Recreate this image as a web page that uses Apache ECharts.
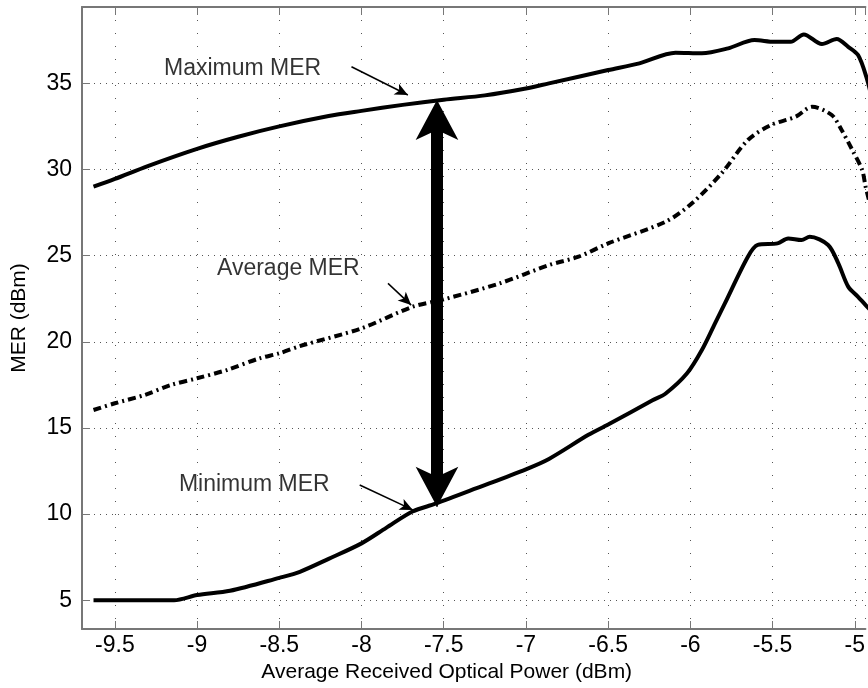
<!DOCTYPE html>
<html>
<head>
<meta charset="utf-8">
<script src="https://cdn.jsdelivr.net/npm/echarts@6/dist/echarts.min.js"></script>
<style>
  html, body { margin: 0; padding: 0; background: #fff; }
  #chart { width: 868px; height: 688px; }
</style>
</head>
<body>
<div id="chart"></div>
<script>
// received optical power (dBm) / MER (dBm)
var maxX = [-9.63, -9.5, -9.3, -9.0, -8.75, -8.5, -8.2, -8.0, -7.75, -7.5, -7.25, -7.0, -6.86, -6.5, -6.31, -6.09, -5.93, -5.77, -5.61, -5.49, -5.39, -5.31, -5.2, -5.11, -5.04, -4.98, -4.93, -4.88];
var maxY = [29.0, 29.45, 30.2, 31.2, 31.9, 32.5, 33.1, 33.4, 33.75, 34.05, 34.3, 34.7, 35.0, 35.77, 36.16, 36.78, 36.74, 37.03, 37.51, 37.41, 37.41, 37.84, 37.28, 37.57, 37.12, 36.64, 35.38, 33.5];

var avgX = [-9.63, -9.5, -9.32, -9.16, -9.0, -8.82, -8.62, -8.5, -8.375, -8.0, -7.69, -7.5, -7.16, -6.86, -6.68, -6.5, -6.15, -5.99, -5.81, -5.65, -5.51, -5.36, -5.26, -5.14, -5.08, -5.015, -4.955, -4.934, -4.88];
var avgY = [16.04, 16.43, 16.91, 17.49, 17.88, 18.36, 19.04, 19.33, 19.75, 20.78, 22.03, 22.46, 23.39, 24.45, 24.94, 25.71, 26.97, 28.04, 29.78, 31.71, 32.58, 33.06, 33.64, 33.16, 32.29, 31.13, 29.97, 29.0, 27.0];

var minX = [-9.63, -9.14, -9.0, -8.8, -8.5, -8.375, -8.2, -8.0, -7.85, -7.69, -7.55, -7.3, -7.0, -6.86, -6.62, -6.5, -6.23, -6.15, -6.02, -5.93, -5.85, -5.79, -5.65, -5.59, -5.47, -5.405, -5.324, -5.274, -5.162, -5.1, -5.04, -4.98, -4.934, -4.88];
var minY = [5.0, 5.0, 5.3, 5.55, 6.3, 6.65, 7.4, 8.3, 9.2, 10.15, 10.6, 11.5, 12.6, 13.2, 14.6, 15.2, 16.6, 17.0, 18.17, 19.52, 21.07, 22.23, 24.94, 25.62, 25.71, 26.0, 25.9, 26.1, 25.62, 24.55, 23.2, 22.61, 22.13, 21.6];

// annotations: text position, arrow start, arrow tip
var noteText = ['Maximum MER', 'Average MER', 'Minimum MER'];
var notePos = [[-8.723, 35.86], [-8.445, 24.26], [-8.652, 11.73]];
var arrowFrom = [[-8.061, 35.96], [-7.839, 23.39], [-8.011, 11.69]];
var arrowTo = [[-7.718, 34.32], [-7.698, 22.13], [-7.688, 10.24]];
// big double arrow between max and min
var spanX = -7.541;
var spanTip = [34.03, 10.43];
var spanShaft = [32.5, 12.0];

function zip(xs, ys) {
  return xs.map(function (x, i) { return [x, ys[i]]; });
}

var font = 'Liberation Sans, Arial, sans-serif';
var axisGray = '#777';
var xMin = -9.7, xMax = -4.935;

var chart = echarts.init(document.getElementById('chart'));
chart.setOption({
  animation: false,
  backgroundColor: '#fff',
  grid: { left: 82, top: 7, bottom: 59, right: 0 },
  xAxis: [{
    type: 'value',
    min: xMin,
    max: xMax,
    splitNumber: 10,
    minInterval: 0.5,
    maxInterval: 0.5,
    name: 'Average Received Optical Power (dBm)',
    nameLocation: 'middle',
    nameGap: 32,
    nameTextStyle: { fontFamily: font, fontSize: 21, color: '#000', padding: [0, 54, 0, 0] },
    axisLine: { onZero: false, lineStyle: { color: axisGray, width: 2 } },
    axisTick: { inside: true, length: 8, lineStyle: { color: axisGray, width: 1 } },
    axisLabel: { fontFamily: font, fontSize: 23, color: '#000', margin: 5, showMinLabel: false, showMaxLabel: false },
    splitLine: { show: true, lineStyle: { color: '#555', width: 1, type: [1, 12] } }
  }, {
    type: 'value',
    position: 'top',
    min: xMin,
    max: xMax,
    splitNumber: 10,
    minInterval: 0.5,
    maxInterval: 0.5,
    axisLine: { onZero: false, lineStyle: { color: axisGray, width: 2 } },
    axisTick: { inside: true, length: 8, lineStyle: { color: axisGray, width: 1 } },
    axisLabel: { show: false },
    splitLine: { show: false }
  }],
  yAxis: {
    type: 'value',
    min: 3.33,
    max: 39.43,
    splitNumber: 7,
    minInterval: 5,
    maxInterval: 5,
    name: 'MER (dBm)',
    nameLocation: 'middle',
    nameGap: 52,
    nameTextStyle: { fontFamily: font, fontSize: 21, color: '#000' },
    axisLine: { onZero: false, lineStyle: { color: axisGray, width: 2 } },
    axisTick: { inside: true, length: 8, lineStyle: { color: axisGray, width: 1 } },
    axisLabel: { fontFamily: font, fontSize: 23, color: '#000', margin: 10, showMinLabel: false, showMaxLabel: false },
    splitLine: { show: true, lineStyle: { color: '#555', width: 1, type: [1, 5] } }
  },
  series: [{
    name: 'Maximum MER',
    type: 'line',
    data: zip(maxX, maxY),
    showSymbol: false,
    smooth: 0.3,
    lineStyle: { color: '#000', width: 4 }
  }, {
    name: 'Average MER',
    type: 'line',
    data: zip(avgX, avgY),
    showSymbol: false,
    smooth: 0.3,
    lineStyle: { color: '#000', width: 4, type: [8, 4, 2, 4] }
  }, {
    name: 'Minimum MER',
    type: 'line',
    data: zip(minX, minY),
    showSymbol: false,
    smooth: 0.3,
    lineStyle: { color: '#000', width: 4 }
  }, {
    name: 'notes',
    type: 'scatter',
    silent: true,
    symbolSize: 1,
    itemStyle: { color: 'rgba(0,0,0,0)' },
    data: notePos.map(function (p, i) { return { value: p, name: noteText[i] }; }),
    label: {
      show: true,
      position: 'inside',
      formatter: '{b}',
      fontFamily: font,
      fontSize: 23,
      color: '#000'
    },
    markLine: {
      silent: true,
      symbol: ['none', 'arrow'],
      symbolSize: [9, 13],
      label: { show: false },
      lineStyle: { color: '#000', width: 1.5, type: 'solid' },
      data: arrowFrom.map(function (p, i) {
        return [{ coord: p }, { coord: arrowTo[i] }];
      }).concat([
        [
          { coord: [spanX, spanShaft[0]], symbol: 'none', lineStyle: { width: 12 } },
          { coord: [spanX, spanShaft[1]], symbol: 'none' }
        ],
        [
          { coord: [spanX, 25], symbolSize: [32, 40] },
          { coord: [spanX, spanTip[0]], symbolSize: [32, 40] }
        ],
        [
          { coord: [spanX, 20], symbolSize: [32, 40] },
          { coord: [spanX, spanTip[1]], symbolSize: [32, 40] }
        ]
      ])
    }
  }]
});
window.addEventListener('resize', function () {
  chart.resize();
});
</script>
</body>
</html>
